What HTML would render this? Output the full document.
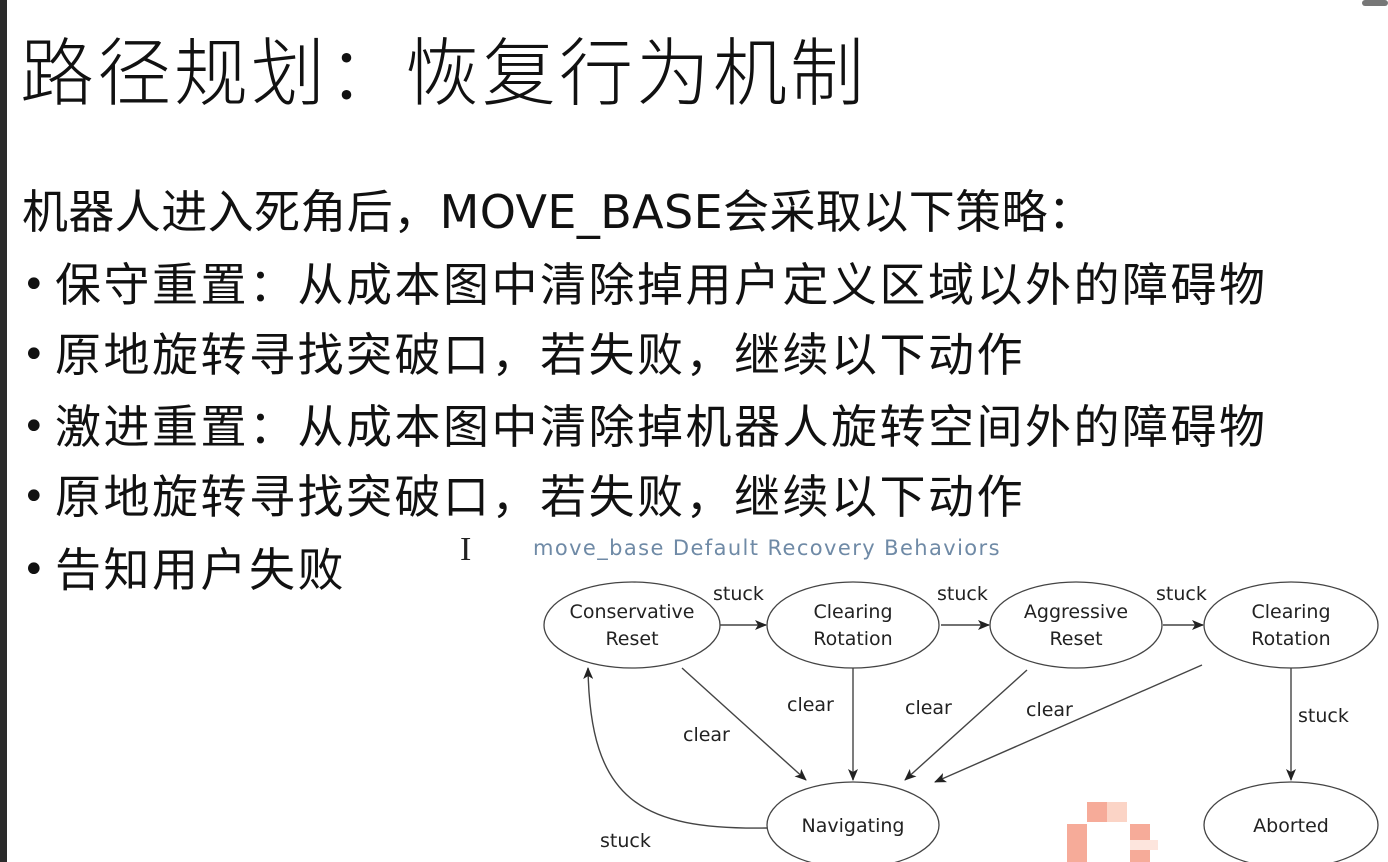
<!DOCTYPE html>
<html><head><meta charset="utf-8"><style>
html,body{margin:0;padding:0;background:#fff;}
body{width:1388px;height:862px;position:relative;overflow:hidden;font-family:"Liberation Sans","Noto Sans CJK SC",sans-serif;}
.bar{position:absolute;left:0;top:0;width:7px;height:862px;background:#2b2b2b;}
.t{position:absolute;left:20px;top:18px;font-size:74px;line-height:100px;color:#111;font-family:"Noto Sans CJK SC",sans-serif;font-weight:300;letter-spacing:3px;white-space:nowrap;}
.l{position:absolute;left:55px;font-size:46px;line-height:60px;color:#111;white-space:nowrap;font-family:"DejaVu Sans","Noto Sans CJK SC",sans-serif;letter-spacing:2.5px;}
.b{position:absolute;left:22px;font-size:40px;line-height:60px;color:#111;font-family:"DejaVu Sans",sans-serif;}
svg{position:absolute;left:0;top:0;}
</style></head><body>
<div class="bar"></div>
<div class="t">路径规划：恢复行为机制</div>
<div class="l" style="top:182px;left:22px;letter-spacing:0.4px">机器人进入死角后，MOVE_BASE会采取以下策略：</div>
<div class="b" style="top:255px">•</div><div class="l" style="top:255px">保守重置：从成本图中清除掉用户定义区域以外的障碍物</div>
<div class="b" style="top:325px">•</div><div class="l" style="top:325px">原地旋转寻找突破口，若失败，继续以下动作</div>
<div class="b" style="top:397px">•</div><div class="l" style="top:397px">激进重置：从成本图中清除掉机器人旋转空间外的障碍物</div>
<div class="b" style="top:467px">•</div><div class="l" style="top:467px">原地旋转寻找突破口，若失败，继续以下动作</div>
<div class="b" style="top:540px">•</div><div class="l" style="top:540px">告知用户失败</div>
<svg width="1388" height="862" font-family="DejaVu Sans, sans-serif" font-size="19" fill="#222">
<defs><marker id="a" markerWidth="12" markerHeight="10" refX="11" refY="5" orient="auto" markerUnits="userSpaceOnUse"><path d="M0,0 L12,5 L0,10 L3,5 z" fill="#222"/></marker></defs>
<rect x="1362" y="0" width="26" height="6" rx="3" fill="#777"/>
<text x="533" y="555" fill="#6f8aa6" font-size="21" letter-spacing="1.4">move_base Default Recovery Behaviors</text>
<g fill="#fff" stroke="#444" stroke-width="1.3">
<ellipse cx="632" cy="625" rx="88" ry="43"/>
<ellipse cx="853" cy="625" rx="86" ry="43"/>
<ellipse cx="1076" cy="625" rx="86" ry="43"/>
<ellipse cx="1291" cy="625" rx="87" ry="43"/>
<ellipse cx="853" cy="825" rx="86" ry="43"/>
<ellipse cx="1291" cy="825" rx="87" ry="43"/>
</g>
<g text-anchor="middle">
<text x="632" y="618">Conservative</text><text x="632" y="645">Reset</text>
<text x="853" y="618">Clearing</text><text x="853" y="645">Rotation</text>
<text x="1076" y="618">Aggressive</text><text x="1076" y="645">Reset</text>
<text x="1291" y="618">Clearing</text><text x="1291" y="645">Rotation</text>
<text x="853" y="832">Navigating</text>
<text x="1291" y="832">Aborted</text>
</g>
<g stroke="#444" stroke-width="1.4" fill="none" marker-end="url(#a)">
<line x1="720" y1="625" x2="766" y2="625"/>
<line x1="941" y1="625" x2="989" y2="625"/>
<line x1="1163" y1="625" x2="1203" y2="625"/>
<line x1="682" y1="668" x2="806" y2="780"/>
<line x1="853" y1="668" x2="853" y2="780"/>
<line x1="1027" y1="670" x2="905" y2="780"/>
<line x1="1202" y1="665" x2="935" y2="782"/>
<line x1="1291" y1="668" x2="1291" y2="780"/>
<path d="M767,828 C640,830 590,800 588,668"/>
</g>
<text x="713" y="600">stuck</text>
<text x="937" y="600">stuck</text>
<text x="1156" y="600">stuck</text>
<text x="683" y="741">clear</text>
<text x="787" y="711">clear</text>
<text x="905" y="714">clear</text>
<text x="1026" y="716">clear</text>
<text x="1298" y="722">stuck</text>
<text x="600" y="847">stuck</text>
<text x="460" y="560" font-size="34" font-family="Liberation Serif, serif">I</text>
<g fill="#f6a38f" opacity="0.9">
<rect x="1087" y="802" width="20" height="20"/><rect x="1067" y="824" width="20" height="38"/><rect x="1130" y="824" width="20" height="38"/>
<rect x="1107" y="802" width="20" height="20" fill="#fbd0c0"/><rect x="1130" y="840" width="28" height="10" fill="#fde3da"/>
</g>
</svg>
</body></html>
